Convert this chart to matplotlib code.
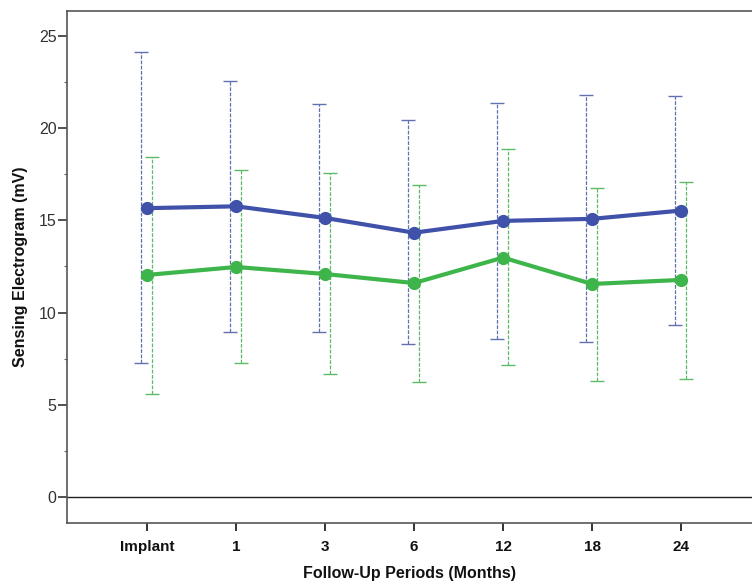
import matplotlib
matplotlib.use("Agg")
import matplotlib.pyplot as plt
import numpy as np
from matplotlib.ticker import MultipleLocator

plt.rcParams['font.family'] = ['Liberation Sans', 'DejaVu Sans']

categories = ["Implant", "1", "3", "6", "12", "18", "24"]
blue_mean = [15.66, 15.76, 15.13, 14.33, 14.97, 15.08, 15.53]
blue_upper = [24.10, 22.56, 21.30, 20.43, 21.37, 21.78, 21.73]
blue_lower = [7.27, 8.93, 8.93, 8.28, 8.57, 8.39, 9.35]
green_mean = [12.04, 12.47, 12.09, 11.60, 12.98, 11.55, 11.77]
green_upper = [18.46, 17.73, 17.55, 16.90, 18.86, 16.77, 17.06]
green_lower = [5.59, 7.27, 6.67, 6.25, 7.14, 6.31, 6.38]

blue = "#3f51a8"
green = "#3db54a"
blue_eb = "#6370b0"
green_eb = "#5dba66"

fig = plt.figure(figsize=(7.52, 5.82), dpi=100)
ax = fig.add_axes([67/752, 1-523/582, 1-67/752, (523-11)/582])

x = np.arange(len(categories))
off = 0.065

def draw_eb(xs, lo, hi, color, capcolor):
    mid = [(a+b)/2 for a, b in zip(lo, hi)]
    eb = ax.errorbar(xs, mid,
                     yerr=[[m - a for m, a in zip(mid, lo)],
                           [b - m for m, b in zip(mid, hi)]],
                     fmt='none', ecolor=color, elinewidth=0.9, capsize=4.8,
                     capthick=1.0, zorder=2)
    for lc in eb[2]:
        lc.set_linestyle((0, (3, 1.2)))
    for c in eb[1]:
        c.set_color(capcolor)
    return eb

draw_eb(x - off, blue_lower, blue_upper, blue_eb, "#555a80")
draw_eb(x + 0.059, green_lower, green_upper, green_eb, "#5a9a62")

ax.plot(x, blue_mean, color=blue, lw=3, marker='o', ms=8.5, zorder=4)
ax.plot(x, green_mean, color=green, lw=3, marker='o', ms=8.5, zorder=4)

ax.axhline(0, color='#222222', lw=1.0, zorder=1)

ax.set_xlim(-0.9, (752-147)/89)
ax.set_ylim(-1.41, 26.35)
ax.set_xticks(x)
ax.set_xticklabels(categories, fontweight='bold', fontsize=11)
ax.yaxis.set_major_locator(MultipleLocator(5))
ax.yaxis.set_minor_locator(MultipleLocator(2.5))
ax.tick_params(axis='y', which='major', length=6.5, width=1.2, pad=1,
               labelsize=11.5, colors='#333333')
ax.tick_params(axis='y', which='minor', length=2, width=0.8, color='#666666')
ax.tick_params(axis='x', which='major', length=6, width=1.2, pad=6,
               labelsize=11, colors='#111111')

for s in ['left', 'top', 'bottom']:
    ax.spines[s].set_color('#555555')
    ax.spines[s].set_linewidth(1.2)
ax.spines['right'].set_visible(False)

ax.set_ylabel("Sensing Electrogram (mV)", fontweight='bold', fontsize=11.5, labelpad=8, color='#111111')
ax.set_xlabel("Follow-Up Periods (Months)", fontweight='bold', fontsize=11.5, labelpad=9, color='#111111')

fig.savefig("out.png", dpi=100)
